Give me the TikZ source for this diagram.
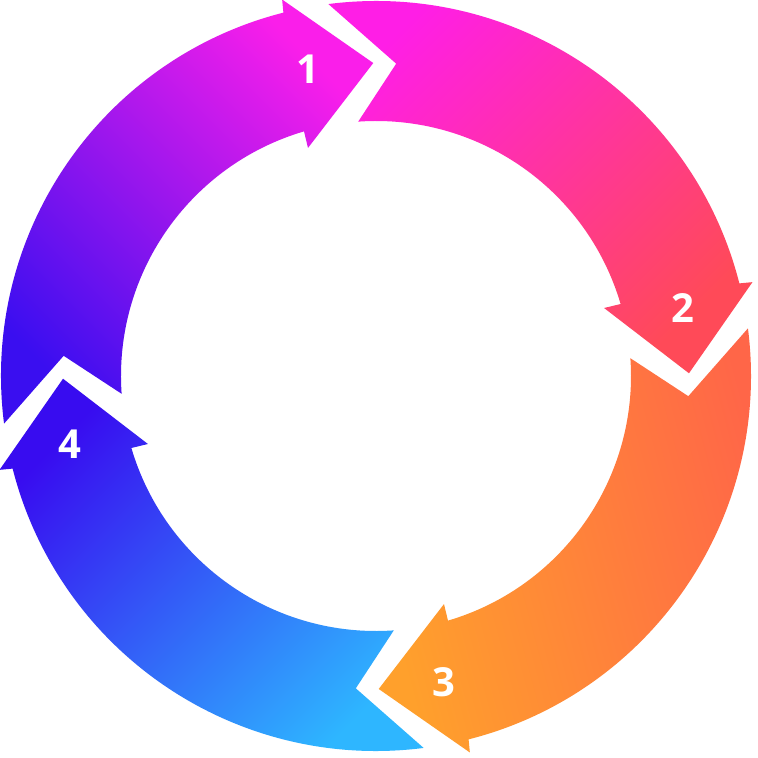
\documentclass[tikz,border=0pt]{standalone}
\usepackage{fontspec}
\newfontfamily\labfont{Open Sans}
\definecolor{cOneA}{HTML}{3A0EF0}
\definecolor{cOneB}{HTML}{FA1EEA}
\definecolor{cTwoA}{HTML}{FF1EE6}
\definecolor{cTwoB}{HTML}{FF4A58}
\definecolor{cThreeA}{HTML}{FFA02C}
\definecolor{cThreeB}{HTML}{FF6648}
\definecolor{cFourA}{HTML}{380CF0}
\definecolor{cFourB}{HTML}{2EB6FF}
% left color ends up in direction (90 + shading angle)
\newcommand{\cyclearrow}[4]{%
  \shade[left color=#2, right color=#3, shading angle=#4]
    ({187.3+#1}:375pt) arc[start angle={187.3+#1}, end angle={104.3+#1}, radius=375pt]
    -- ({104+#1}:388pt) -- ({90.5+#1}:313pt) -- ({106.6+#1}:238pt) -- ({106.4+#1}:255pt)
    arc[start angle={106.4+#1}, end angle={184+#1}, radius=255pt]
    -- ({176.3+#1}:313pt) -- cycle;}
\tikzset{lab/.style={text=white, inner sep=0pt, font=\labfont\bfseries\fontsize{40}{40}\selectfont}}
\begin{document}
\begin{tikzpicture}
\fill[white] (-376pt,-382pt) rectangle (382pt,376pt);
\useasboundingbox (-376pt,-382pt) rectangle (382pt,376pt);
\cyclearrow{0}{cOneA}{cOneB}{135}
\cyclearrow{-90}{cTwoA}{cTwoB}{45}
\cyclearrow{-180}{cThreeA}{cThreeB}{105}
\cyclearrow{-270}{cFourA}{cFourB}{45}
\node[lab] (n1) at (102.5:314pt) {1};
\node[lab] (n2) at (12.5:314pt) {2};
\node[lab] (n3) at (-77.5:314pt) {3};
\node[lab] (n4) at (-167.5:314pt) {4};
\end{tikzpicture}
\end{document}
